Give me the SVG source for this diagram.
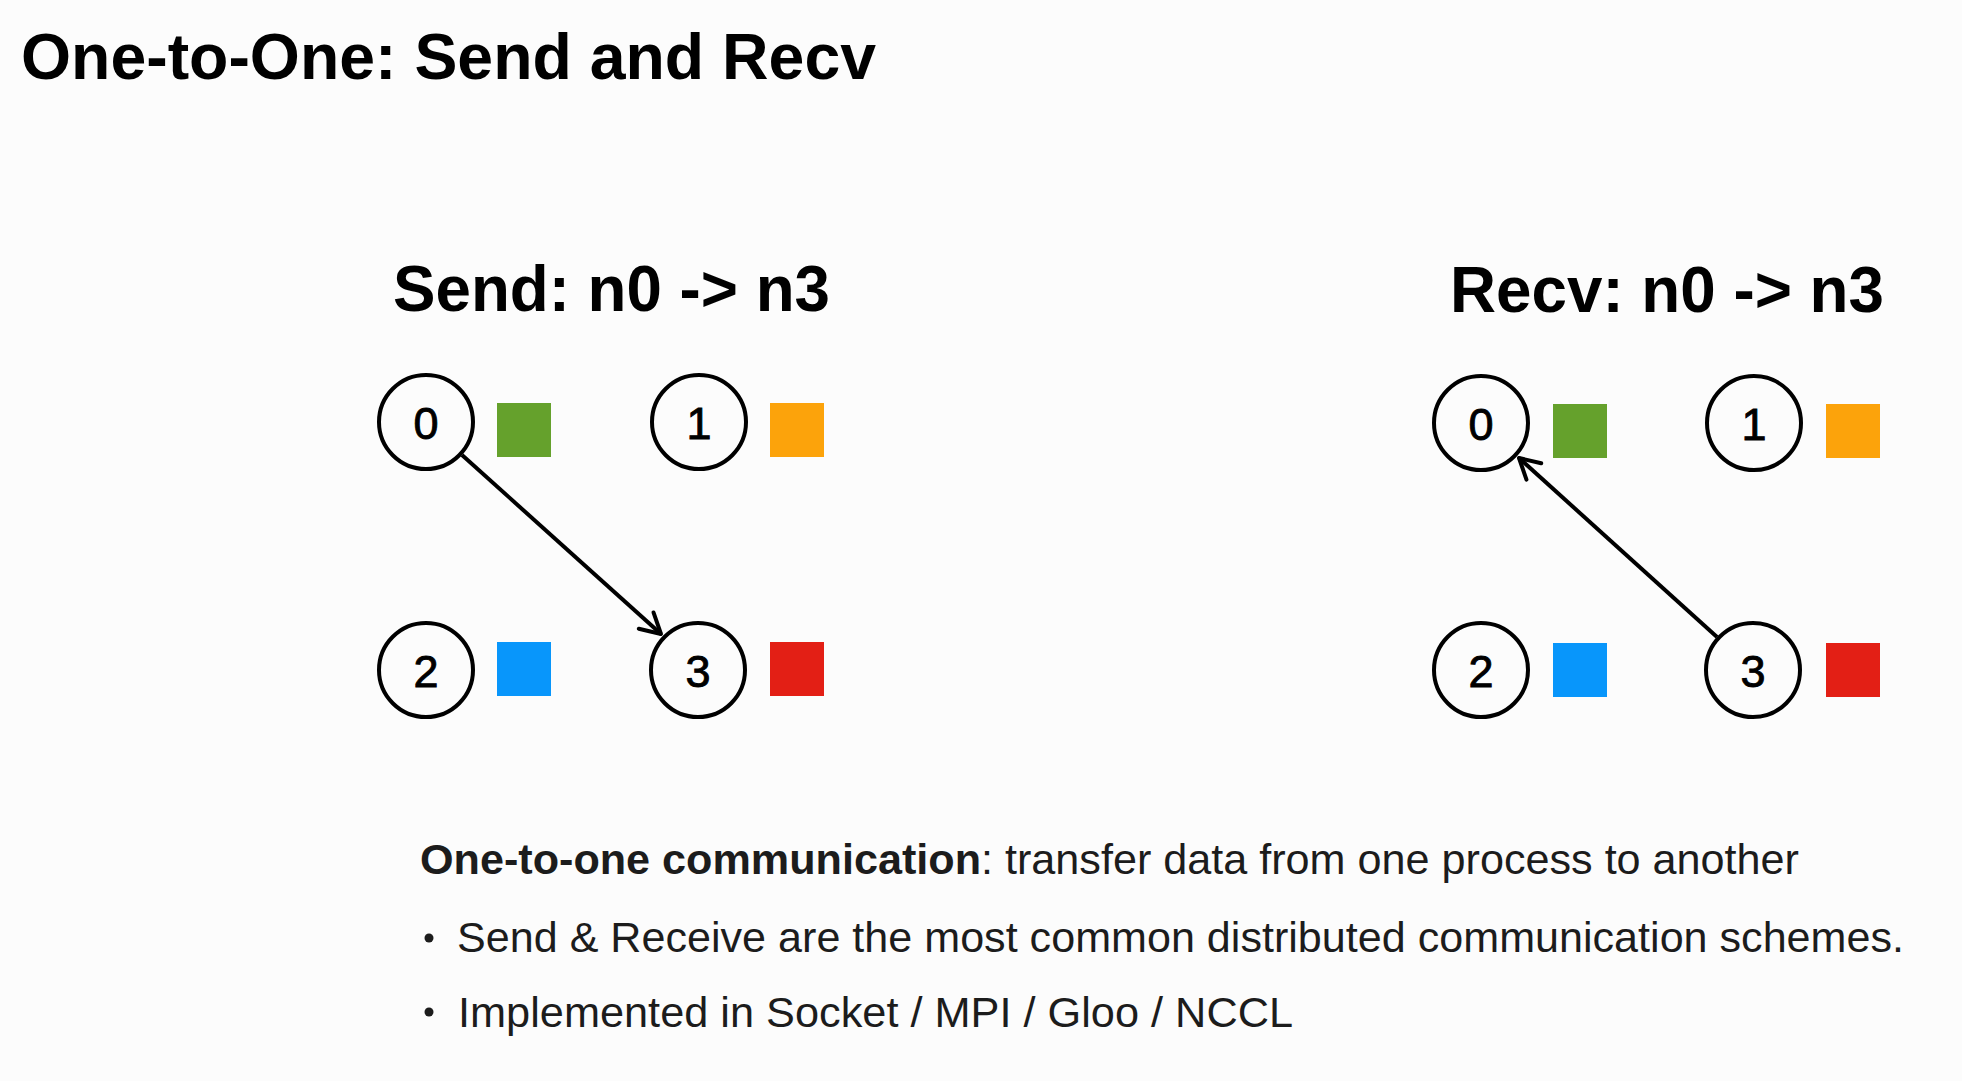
<svg xmlns="http://www.w3.org/2000/svg" width="1962" height="1081" viewBox="0 0 1962 1081">
  <style>
    .title { font-family: "Liberation Sans", Arial, sans-serif; font-weight: bold; fill: #000; }
    .node circle { fill: none; stroke: #000; stroke-width: 4; }
    .digit { font-family: "Liberation Sans", Arial, sans-serif; font-size: 45px; fill: #000; stroke: #000; stroke-width: 0.9; text-anchor: middle; }
    .body { font-family: "Liberation Sans", Arial, sans-serif; font-size: 43px; fill: #1c1c1c; }
    .conn { stroke: #000; stroke-width: 4; fill: none; marker-end: url(#arrow); }
    .green { fill: #65a12c; }
    .orange { fill: #fca30b; }
    .blue { fill: #0896fb; }
    .red { fill: #e31f15; }
  </style>
  <defs>
    <marker id="arrow" markerUnits="userSpaceOnUse" markerWidth="30" markerHeight="30" viewBox="-25 -15 30 30" refX="0" refY="0" orient="auto">
      <path d="M-20,-11 L0,0 L-20,11" fill="none" stroke="#000" stroke-width="4" stroke-linecap="round" stroke-linejoin="round"/>
    </marker>
  </defs>
  <rect x="0" y="0" width="1962" height="1081" fill="#fcfcfc"/>

  <text class="title" x="21" y="79" font-size="65" textLength="855" lengthAdjust="spacingAndGlyphs">One-to-One: Send and Recv</text>

  <!-- Send panel -->
  <g id="send-panel">
    <text class="title" x="393" y="311" font-size="64" textLength="437" lengthAdjust="spacingAndGlyphs">Send: n0 -&gt; n3</text>
    <g id="send-n0" class="node">
      <circle cx="426" cy="422" r="47"/>
      <text class="digit" x="426" y="439">0</text>
      <rect class="green" x="497" y="403" width="54" height="54"/>
    </g>
    <g id="send-n1" class="node">
      <circle cx="699" cy="422" r="47"/>
      <text class="digit" x="699" y="439">1</text>
      <rect class="orange" x="770" y="403" width="54" height="54"/>
    </g>
    <g id="send-n2" class="node">
      <circle cx="426" cy="670" r="47"/>
      <text class="digit" x="426" y="687">2</text>
      <rect class="blue" x="497" y="642" width="54" height="54"/>
    </g>
    <g id="send-n3" class="node">
      <circle cx="698" cy="670" r="47"/>
      <text class="digit" x="698" y="687">3</text>
      <rect class="red" x="770" y="642" width="54" height="54"/>
    </g>
  </g>

  <!-- Recv panel -->
  <g id="recv-panel">
    <text class="title" x="1450" y="312" font-size="64" textLength="434" lengthAdjust="spacingAndGlyphs">Recv: n0 -&gt; n3</text>
    <g id="recv-n0" class="node">
      <circle cx="1481" cy="423" r="47"/>
      <text class="digit" x="1481" y="440">0</text>
      <rect class="green" x="1553" y="404" width="54" height="54"/>
    </g>
    <g id="recv-n1" class="node">
      <circle cx="1754" cy="423" r="47"/>
      <text class="digit" x="1754" y="440">1</text>
      <rect class="orange" x="1826" y="404" width="54" height="54"/>
    </g>
    <g id="recv-n2" class="node">
      <circle cx="1481" cy="670" r="47"/>
      <text class="digit" x="1481" y="687">2</text>
      <rect class="blue" x="1553" y="643" width="54" height="54"/>
    </g>
    <g id="recv-n3" class="node">
      <circle cx="1753" cy="670" r="47"/>
      <text class="digit" x="1753" y="687">3</text>
      <rect class="red" x="1826" y="643" width="54" height="54"/>
    </g>
  </g>

  <g id="connectors">
    <line class="conn" x1="462" y1="455" x2="661" y2="634"/>
    <line class="conn" x1="1717" y1="637" x2="1519" y2="458"/>
  </g>

  <g id="notes">
    <text class="body" x="420" y="874" textLength="1379" lengthAdjust="spacingAndGlyphs"><tspan font-weight="bold">One-to-one communication</tspan>: transfer data from one process to another</text>
    <circle cx="429" cy="938" r="4.5" fill="#1c1c1c"/>
    <text class="body" x="457" y="952" textLength="1447" lengthAdjust="spacingAndGlyphs">Send &amp; Receive are the most common distributed communication schemes.</text>
    <circle cx="429" cy="1012" r="4.5" fill="#1c1c1c"/>
    <text class="body" x="458" y="1027" textLength="835" lengthAdjust="spacingAndGlyphs">Implemented in Socket / MPI / Gloo / NCCL</text>
  </g>
</svg>
